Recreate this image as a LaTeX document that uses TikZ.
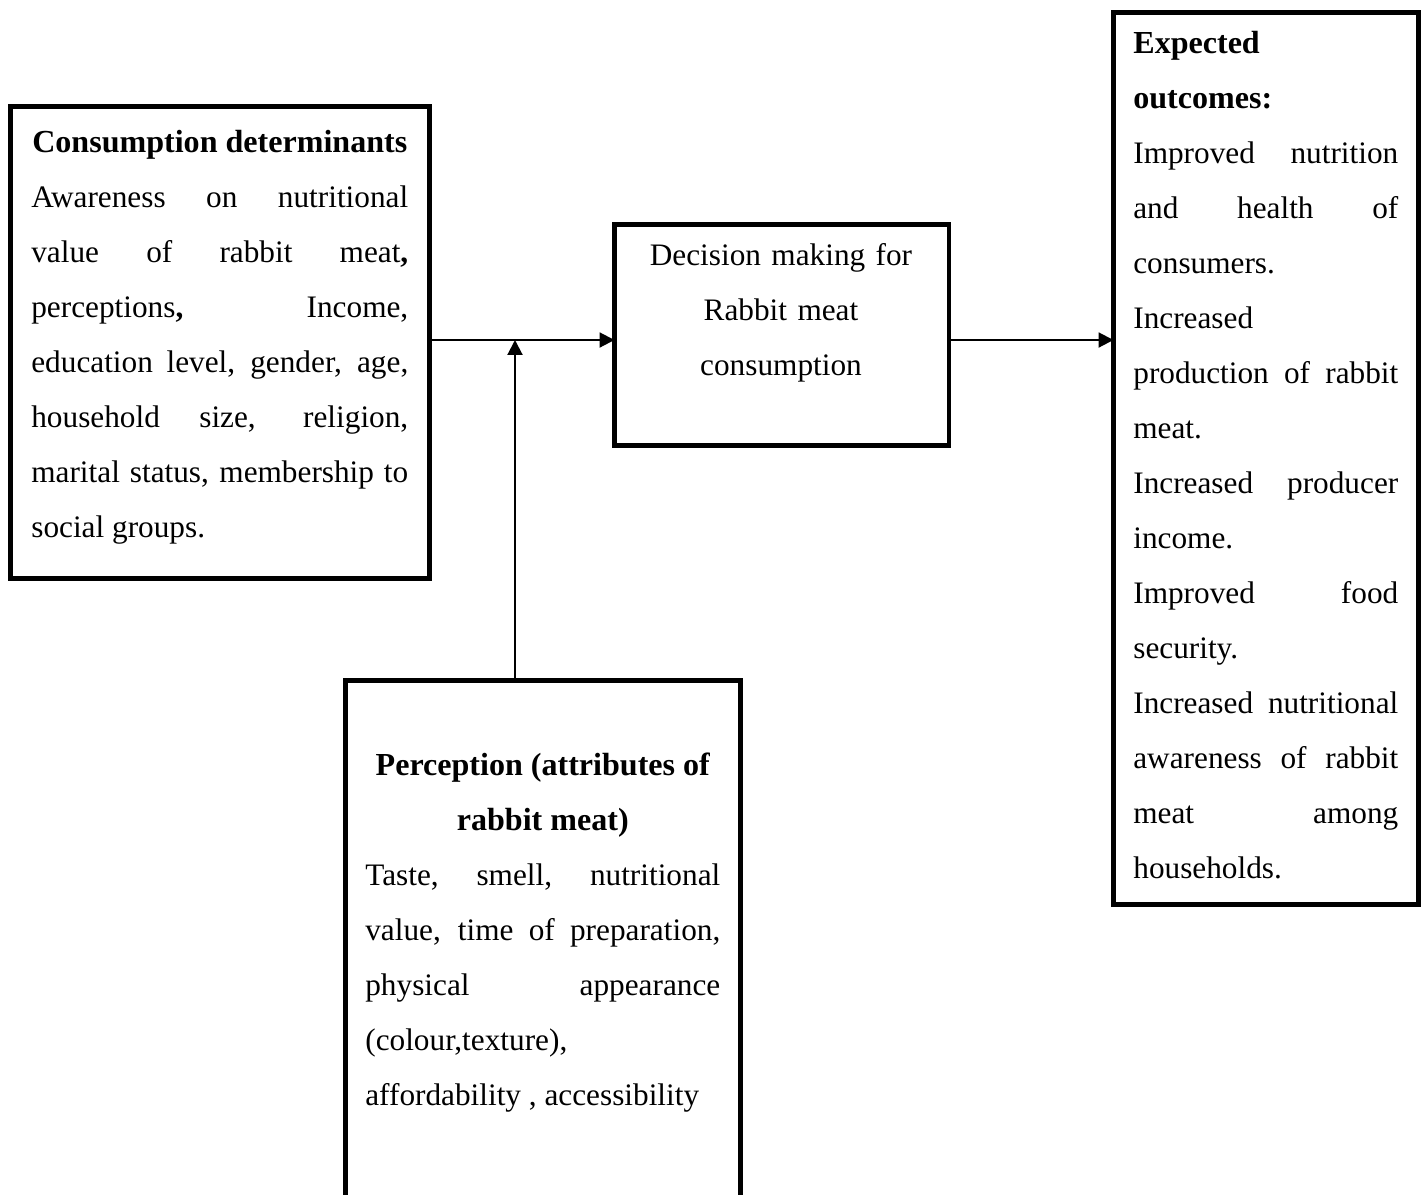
\documentclass[tikz,border=0pt]{standalone}
\usepackage{fontspec}
\setmainfont{Liberation Serif}
\usetikzlibrary{arrows.meta}
\newcommand{\hbd}[1]{{\fontsize{18.25}{31.3}\selectfont\bfseries #1}}
\begin{document}
\begin{tikzpicture}[x=0.02cm,y=-0.02cm,
  box/.style={draw, line width=2.6pt, inner sep=0pt, outer sep=0pt, anchor=north west},
  txt/.style={inner sep=0pt, font=\fontsize{17.8}{31.3}\selectfont, align=justify},
  conn/.style={line width=1.2pt, -{Triangle[length=8.5pt,width=8.5pt]}}]
\useasboundingbox (0,0) rectangle (1427,1194);
\clip (0,0) rectangle (1427,1194);
\hyphenpenalty=10000
\node[box, minimum width=8.38cm, minimum height=9.44cm] (A) at (10.5,106.5) {};
\node[box, minimum width=6.69cm, minimum height=4.42cm] (B) at (614.5,224.5) {};
\node[box, minimum width=6.1cm, minimum height=17.84cm] (C) at (1113.5,12.5) {};
\node[box, minimum width=7.9cm, minimum height=11.2cm] (D) at (345.5,680.5) {};

\node[txt, text width=7.54cm, anchor=north west] (At) at (31,127.3) {\rule{0pt}{14pt}\hfil\hbd{Consumption determinants}\\ Awareness on nutritional\linebreak value of rabbit meat\textbf{,}\linebreak perceptions\textbf{,} Income,\linebreak education level, gender, age,\linebreak household size, religion,\linebreak marital status, membership to\linebreak social groups.};

\node[txt, text width=6cm, align=center, anchor=north] (Bt) at (781,240.3) {\rule{0pt}{14pt}Decision making for\\ Rabbit meat\\ consumption};

\node[txt, text width=5.3cm, anchor=north west] (Ct) at (1133,28.3) {\rule{0pt}{14pt}\hbd{Expected}\\ \hbd{outcomes:}\\ Improved nutrition\linebreak and health of\linebreak consumers.\\ Increased\\ production of rabbit\linebreak meat.\\ Increased producer\linebreak income.\\ Improved food\linebreak security.\\ Increased nutritional\linebreak awareness of rabbit\linebreak meat among\linebreak households.};

\node[txt, text width=7.1cm, anchor=north west] (Dt) at (365,750.3) {\rule{0pt}{14pt}\hfil\hbd{Perception (attributes of}\\ \null\hfil\hbd{rabbit meat)}\\ Taste, smell, nutritional\linebreak value, time of preparation,\linebreak physical appearance\linebreak (colour,texture),\\ affordability , accessibility};

\coordinate (j) at (515,340);
\draw[conn] (A.east |- j) -- (B.west |- j);
\draw[conn] (B.east |- j) -- (C.west |- j);
\draw[conn] (D.north -| j) -- (j);
\end{tikzpicture}
\end{document}
